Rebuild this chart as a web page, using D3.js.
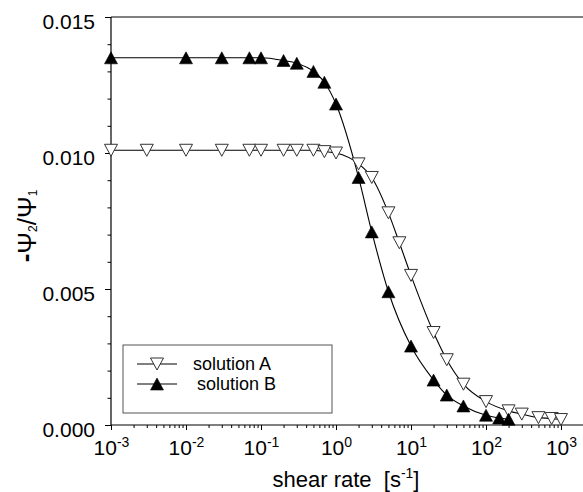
<!DOCTYPE html>
<html>
<head>
<meta charset="utf-8">
<script src="https://cdn.jsdelivr.net/npm/d3@7"></script>
<style>
  html, body { margin: 0; padding: 0; background: #ffffff; }
  svg { display: block; font-family: "Liberation Sans", Arial, sans-serif; }
</style>
</head>
<body>
<svg id="chart" width="583" height="492"></svg>
<script>
// Shear rates [1/s] and -Psi2/Psi1.
const shearA = [0.001, 0.003, 0.01, 0.03, 0.07, 0.1, 0.2, 0.3, 0.5, 0.7, 1, 2, 3, 5, 7, 10, 20, 30, 50, 100, 200, 300, 500, 750, 1000];
const ratioA = [0.0101, 0.0101, 0.0101, 0.0101, 0.0101, 0.0101, 0.0101, 0.0101, 0.0101, 0.01005, 0.0100, 0.0096, 0.0091, 0.0078, 0.0067, 0.0055, 0.0034, 0.0024, 0.0015, 0.00086, 0.00052, 0.0004, 0.00027, 0.00024, 0.0002];
const shearB = [0.001, 0.01, 0.03, 0.07, 0.1, 0.2, 0.3, 0.5, 0.7, 1, 2, 3, 5, 10, 20, 30, 50, 100, 150, 200];
const ratioB = [0.0135, 0.0135, 0.0135, 0.0135, 0.0135, 0.0134, 0.0133, 0.0130, 0.0126, 0.0118, 0.0091, 0.0071, 0.0049, 0.0029, 0.00165, 0.0011, 0.0007, 0.00036, 0.00026, 0.00021];
const seriesNames = ["solution A", "solution B"];
const yTicks = [0, 0.005, 0.010, 0.015];
const xTicks = [1e-3, 1e-2, 1e-1, 1e0, 1e1, 1e2, 1e3];

// Frame of the plot area.
const plotLeft = 111, plotRight = 583, plotTop = 17, plotBottom = 425;
const fontSize = 21;

const svg = d3.select("#chart");

const x = d3.scaleLog().domain([1e-3, 1e3]).range([plotLeft, 561]);
const y = d3.scaleLinear().domain([0, 0.015]).range([plotBottom, plotTop]);

// Minor ticks: 2..9 inside each decade, and every 0.001 on y.
const xMinor = [];
xTicks.slice(0, -1).forEach(t => { for (let k = 2; k <= 9; k++) xMinor.push(t * k); });
const yMinor = d3.range(0, 15).map(i => i / 1000).filter(v => !yTicks.some(t => Math.abs(t - v) < 1e-9));

// Frame lines: top border, bottom axis and left axis.
svg.append("line")
  .attr("x1", plotLeft).attr("x2", plotRight)
  .attr("y1", plotTop).attr("y2", plotTop)
  .attr("stroke", "#000").attr("stroke-width", 1.2);
svg.append("line")
  .attr("x1", plotLeft).attr("x2", plotRight)
  .attr("y1", plotBottom).attr("y2", plotBottom)
  .attr("stroke", "#000").attr("stroke-width", 1.2);
svg.append("line")
  .attr("x1", plotLeft).attr("x2", plotLeft)
  .attr("y1", plotTop).attr("y2", plotBottom)
  .attr("stroke", "#000").attr("stroke-width", 1.2);

// Minor x ticks.
svg.append("g")
  .attr("transform", `translate(0,${plotBottom})`)
  .call(d3.axisBottom(x).tickValues(xMinor).tickSize(3).tickFormat(""))
  .call(g => g.select(".domain").remove());
// Major x ticks with 10^n labels.
const xAxis = svg.append("g")
  .attr("transform", `translate(0,${plotBottom})`)
  .call(d3.axisBottom(x).tickValues(xTicks).tickSize(5).tickFormat(""))
  .call(g => g.select(".domain").remove());
xAxis.selectAll(".tick text").remove();
xAxis.selectAll(".tick").append("text")
  .attr("y", 30)
  .attr("fill", "#000")
  .attr("text-anchor", "middle")
  .attr("font-size", fontSize)
  .each(function (d) {
    const t = d3.select(this);
    t.append("tspan").text("10");
    t.append("tspan")
      .attr("font-size", 14)
      .attr("dy", -8)
      .text(String(Math.round(Math.log10(d))));
  });

// Minor y ticks.
svg.append("g")
  .attr("transform", `translate(${plotLeft},0)`)
  .call(d3.axisLeft(y).tickValues(yMinor).tickSize(3.5).tickFormat(""))
  .call(g => g.select(".domain").remove());
// Major y ticks.
svg.append("g")
  .attr("transform", `translate(${plotLeft},0)`)
  .call(d3.axisLeft(y).tickValues(yTicks).tickSize(6).tickPadding(10).tickFormat(d3.format(".3f")))
  .call(g => g.select(".domain").remove())
  .call(g => g.selectAll(".tick text")
    .attr("font-size", fontSize)
    .attr("font-family", "Liberation Sans, Arial, sans-serif")
    .attr("dy", "0.53em")
    .attr("fill", "#000"));

svg.selectAll(".tick line").attr("stroke", "#000");

// Fit curves through the data.
const line = d3.line()
  .x(d => x(d[0]))
  .y(d => y(d[1]))
  .curve(d3.curveMonotoneX);
const dataA = shearA.map((s, i) => [s, ratioA[i]]);
const dataB = shearB.map((s, i) => [s, ratioB[i]]);

svg.append("path").attr("d", line(dataA))
  .attr("fill", "none").attr("stroke", "#000").attr("stroke-width", 1.1);
svg.append("path").attr("d", line(dataB))
  .attr("fill", "none").attr("stroke", "#000").attr("stroke-width", 1.1);

// Triangle markers.
const half = 6.5, h = 12;
const downTri = `M${-half},${-h / 2}L${half},${-h / 2}L0,${h / 2}Z`;
const upTri = `M${-half},${h / 2}L${half},${h / 2}L0,${-h / 2}Z`;

svg.append("g").selectAll("path")
  .data(dataA)
  .join("path")
  .attr("transform", d => `translate(${x(d[0])},${y(d[1])})`)
  .attr("d", downTri)
  .attr("fill", "#fff")
  .attr("stroke", "#333")
  .attr("stroke-width", 1);

svg.append("g").selectAll("path")
  .data(dataB)
  .join("path")
  .attr("transform", d => `translate(${x(d[0])},${y(d[1])})`)
  .attr("d", upTri)
  .attr("fill", "#000")
  .attr("stroke", "#000")
  .attr("stroke-width", 0.6);

// Legend.
const legend = svg.append("g").attr("transform", "translate(123,345)");
legend.append("rect")
  .attr("width", 209).attr("height", 68)
  .attr("fill", "#fff").attr("stroke", "#555").attr("stroke-width", 1);
seriesNames.forEach((name, i) => {
  const ly = 19 + i * 20;
  const row = legend.append("g").attr("transform", `translate(34,${ly})`);
  row.append("line").attr("x1", -20).attr("x2", 20).attr("stroke", "#000").attr("stroke-width", 1);
  row.append("path")
    .attr("d", i === 0 ? downTri : upTri)
    .attr("fill", i === 0 ? "#fff" : "#000")
    .attr("stroke", i === 0 ? "#333" : "#000")
    .attr("stroke-width", i === 0 ? 1 : 0.6);
  row.append("text")
    .attr("x", i === 0 ? 36 : 40)
    .attr("dy", "0.35em")
    .attr("font-size", 18)
    .attr("fill", "#000")
    .text(name);
});

// Axis titles.
const xTitle = svg.append("text")
  .attr("x", 346).attr("y", 487)
  .attr("text-anchor", "middle")
  .attr("font-size", 22)
  .attr("fill", "#000")
  .style("white-space", "pre");
xTitle.append("tspan").text("shear rate  [s");
xTitle.append("tspan").attr("font-size", 14).attr("dy", -9).text("-1");
xTitle.append("tspan").attr("dy", 9).text("]");

const yTitle = svg.append("text")
  .attr("transform", "translate(36,226) rotate(-90)")
  .attr("text-anchor", "middle")
  .attr("font-size", 26)
  .attr("fill", "#000");
yTitle.append("tspan").attr("font-weight", "bold").attr("dy", -2).text("-");
yTitle.append("tspan").attr("dy", 2).text("Ψ");
yTitle.append("tspan").attr("font-size", 12).attr("dy", 1).text("2");
yTitle.append("tspan").attr("dy", -1).text("/Ψ");
yTitle.append("tspan").attr("font-size", 12).attr("dy", 1).text("1");
</script>
</body>
</html>
